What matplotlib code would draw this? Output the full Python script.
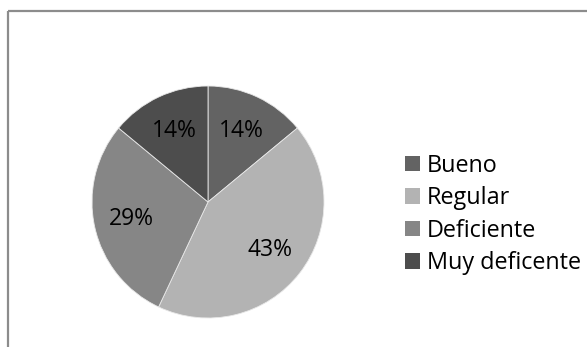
import matplotlib
matplotlib.use("Agg")
import matplotlib.pyplot as plt
from matplotlib.lines import Line2D

categories = ["Bueno", "Regular", "Deficiente", "Muy deficente"]
values = [14, 43, 29, 14]
colors = ["#636363", "#b3b3b3", "#868686", "#4d4d4d"]

plt.rcParams['font.family'] = ['Open Sans', 'DejaVu Sans']

W, H = 587, 347
fig = plt.figure(figsize=(W / 100, H / 100), dpi=100)
fig.patch.set_facecolor("white")

# outer frame (top and left visible)
fig.add_artist(Line2D([7.5 / W, 1.0], [1 - 10.5 / H, 1 - 10.5 / H], transform=fig.transFigure,
                      color="#8c8c8c", lw=1.6, solid_capstyle="butt"))
fig.add_artist(Line2D([7.5 / W, 7.5 / W], [0, 1 - 10.5 / H], transform=fig.transFigure,
                      color="#8c8c8c", lw=1.6, solid_capstyle="butt"))

cx, cy, r = 208, 202, 116
ax = fig.add_axes([(cx - r) / W, (H - cy - r) / H, 2 * r / W, 2 * r / H])
wedges, texts, autotexts = ax.pie(
    values, colors=colors, startangle=90, counterclock=False,
    autopct=lambda p: f"{p:.0f}%", pctdistance=0.68,
    wedgeprops=dict(edgecolor="#e8e8e8", linewidth=0.6),
    textprops=dict(fontsize=16.5, color="#000000"),
)
ax.set_xlim(-1, 1)
ax.set_ylim(-1, 1)
ax.set_aspect("equal")
ax.axis("off")

leg = fig.legend(wedges, categories, loc="center left",
                 bbox_to_anchor=(405 / W, 1 - 214.5 / H), frameon=False,
                 fontsize=16.8, handlelength=0.64, handleheight=0.64,
                 handletextpad=0.3, labelspacing=0.36, borderaxespad=0,
                 borderpad=0)
for h in leg.legend_handles:
    h.set_edgecolor("none")
for t in leg.get_texts():
    t.set_color("#000000")

fig.savefig("out.png", dpi=100, facecolor="white")
